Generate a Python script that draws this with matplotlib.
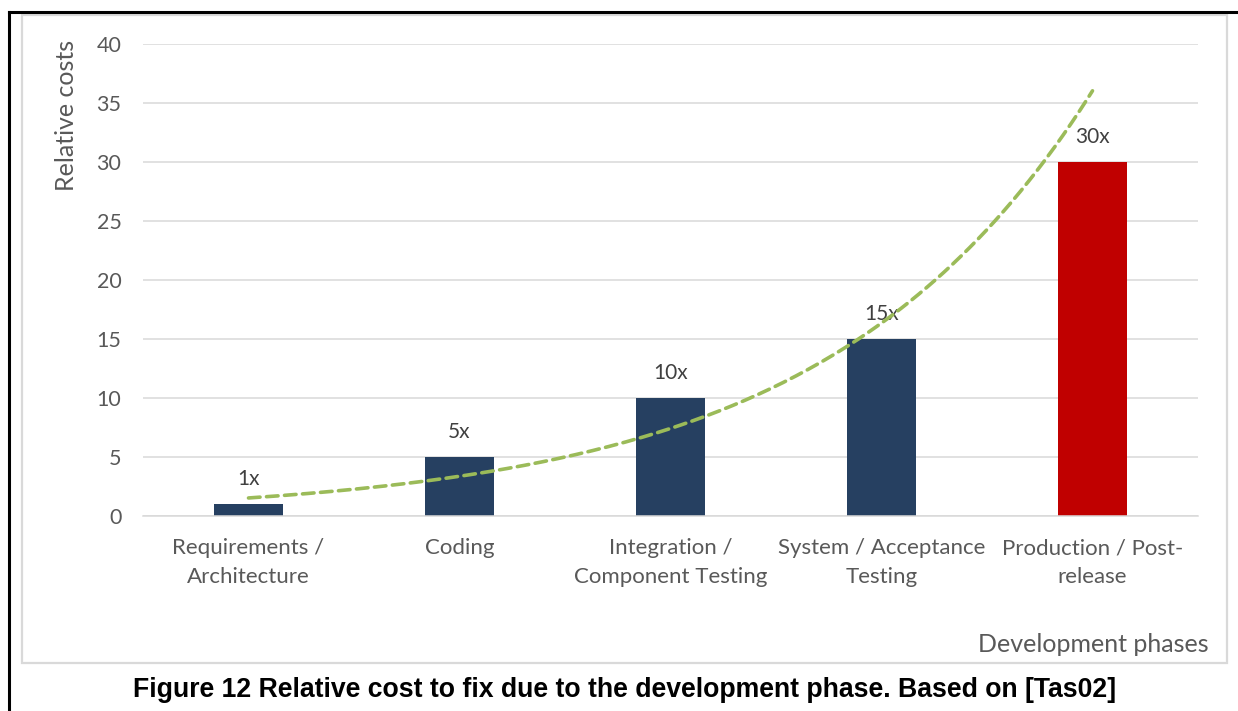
import numpy as np
import matplotlib
matplotlib.use("Agg")
import matplotlib.pyplot as plt
from matplotlib.patches import Rectangle
from matplotlib.lines import Line2D

phases = ["Requirements /\nArchitecture", "Coding", "Integration /\nComponent Testing",
          "System / Acceptance\nTesting", "Production / Post-\nrelease"]
costs = [1, 5, 10, 15, 30]
labels = ["1x", "5x", "10x", "15x", "30x"]
bar_colors = ["#264061", "#264061", "#264061", "#264061", "#C00000"]
yticks = [0, 5, 10, 15, 20, 25, 30, 35, 40]

W, H = 1238, 711
TXT = "#595959"
plt.rcParams['font.family'] = ['Lato', 'DejaVu Sans']

fig = plt.figure(figsize=(W / 100, H / 100), dpi=100)

# outer frame (top + left black lines) and excel chart border
fig.add_artist(Line2D([9 / W, 1], [1 - 12 / H, 1 - 12 / H], color="black", lw=2.2))
fig.add_artist(Line2D([9 / W, 9 / W], [0, 1 - 12 / H], color="black", lw=2.2))
fig.add_artist(Rectangle((22 / W, 1 - 663 / H), (1227 - 22) / W, (663 - 15) / H,
                         fill=False, edgecolor="#D9D9D9", lw=1.6))

ax = fig.add_axes([143 / W, 1 - 516 / H, (1198 - 143) / W, (516 - 44) / H])
x = np.arange(len(costs))
ax.bar(x, costs, width=0.33, color=bar_colors, zorder=2)

for xi, c, lab in zip(x, costs, labels):
    ax.annotate(lab, (xi, c), xytext=(0, 13.5), textcoords="offset points",
                ha="center", va="baseline", fontsize=15, color="#404040", zorder=3)

# exponential trendline (least squares on log values, like excel)
b, a = np.polyfit(x + 1, np.log(costs), 1)
xs = np.linspace(0, 4, 200)
ax.plot(xs, np.exp(a + b * (xs + 1)), color="#9BBB59", lw=2.6, ls=(0, (3.2, 1.8)),
        dash_capstyle="round", zorder=4)

ax.set_xlim(-0.5, 4.5)
ax.set_ylim(0, 40)
ax.set_yticks(yticks)
ax.set_xticks(x)
ax.set_xticklabels(phases, linespacing=1.56)
ax.grid(axis="y", color="#D9D9D9", lw=1.1, zorder=0)
ax.set_axisbelow(True)
for s in ["left", "right", "top"]:
    ax.spines[s].set_visible(False)
ax.spines["bottom"].set_color("#D9D9D9")
ax.spines["bottom"].set_linewidth(1.1)
ax.tick_params(axis="both", length=0, labelsize=16, labelcolor=TXT)
ax.tick_params(axis="y", labelsize=15.5, pad=15.5)
ax.tick_params(axis="x", pad=16)

fig.text(67 / W, 1 - 40 / H, "Relative costs", rotation=90, ha="center", va="top",
         fontsize=18, color=TXT)
fig.text(1209 / W, 1 - 644 / H, "Development phases", ha="right", va="center",
         fontsize=18, color=TXT)
fig.text(625 / W, 1 - 690 / H, "Figure 12 Relative cost to fix due to the development phase. Based on [Tas02]",
         ha="center", va="center", fontsize=19.2, fontweight="bold", family="Liberation Sans")

fig.savefig("out.png", dpi=100)
